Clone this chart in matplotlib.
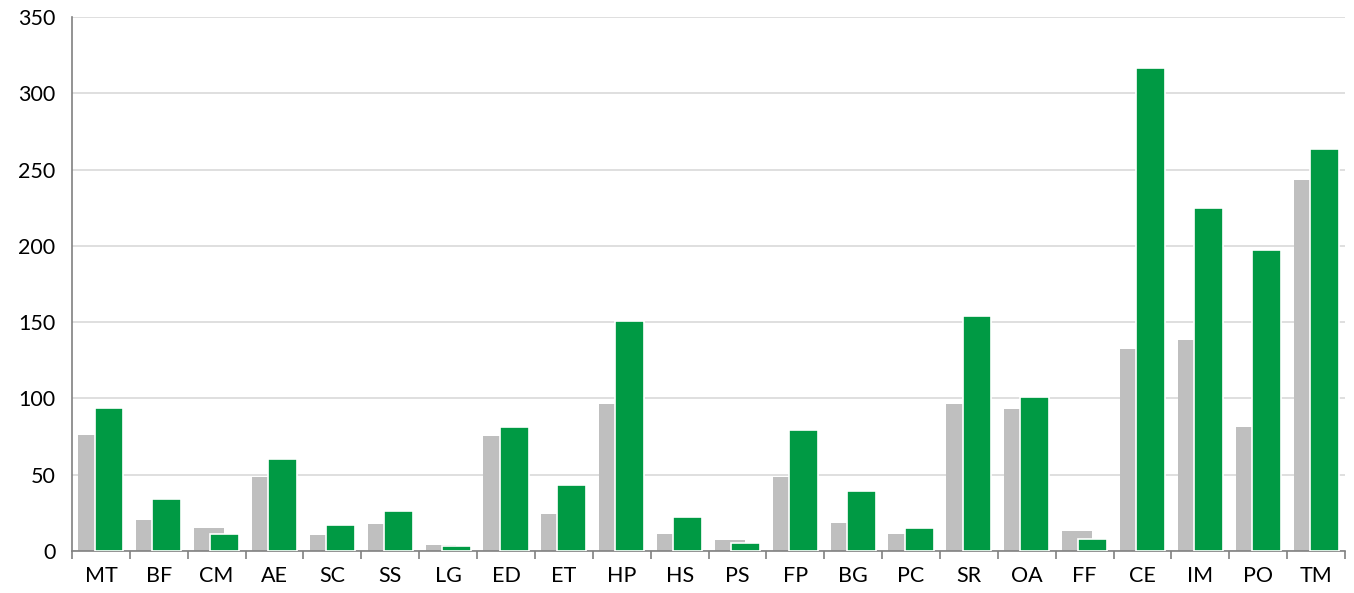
import numpy as np
import matplotlib.pyplot as plt

categories = ['MT', 'BF', 'CM', 'AE', 'SC', 'SS', 'LG', 'ED', 'ET', 'HP', 'HS',
              'PS', 'FP', 'BG', 'PC', 'SR', 'OA', 'FF', 'CE', 'IM', 'PO', 'TM']
grey_vals = [76, 20, 15, 48.5, 10.5, 17.5, 4, 75.5, 24, 96.5, 11,
             7.5, 48.5, 18.5, 11, 96.5, 93, 13, 132.5, 138.5, 81.5, 243]
green_vals = [94, 34, 11, 60, 17, 26, 3, 81, 43, 151, 22,
              5, 79, 39, 15, 154, 101, 8, 316.5, 225, 197, 263.5]

GREY = '#BFBFBF'
GREEN = '#009A44'

plt.rcParams['font.family'] = ['Lato', 'DejaVu Sans']

fig = plt.figure(figsize=(13.54, 5.93), dpi=100)
ax = fig.add_axes([72 / 1354, 1 - 551 / 593, (1345 - 72) / 1354, (551 - 17) / 593])

x = np.arange(len(categories))
ax.bar(x - 0.13, grey_vals, width=0.52, color=GREY, zorder=2)
ax.bar(x + 0.14, green_vals, width=0.5, color=GREEN, edgecolor='white',
       linewidth=1.2, zorder=3)

ax.set_xlim(-0.5, len(categories) - 0.5)
ax.set_ylim(0, 350)
ax.set_yticks(range(0, 351, 50))
ax.yaxis.grid(True, color='#D9D9D9', linewidth=1.2, zorder=0)
ax.set_axisbelow(True)

ax.set_xticks(x)
ax.set_xticklabels(categories)
ax.set_xticks(np.arange(-0.5, len(categories)), minor=True)
ax.tick_params(axis='x', which='major', length=0, pad=11, labelsize=15.5)
ax.tick_params(axis='x', which='minor', length=6, width=1.2, color='#808080')
ax.tick_params(axis='y', length=0, pad=12, labelsize=15.5)

for s in ['top', 'right']:
    ax.spines[s].set_visible(False)
for s in ['left', 'bottom']:
    ax.spines[s].set_color('#808080')
    ax.spines[s].set_linewidth(1.2)

fig.savefig('out.png', dpi=100)
